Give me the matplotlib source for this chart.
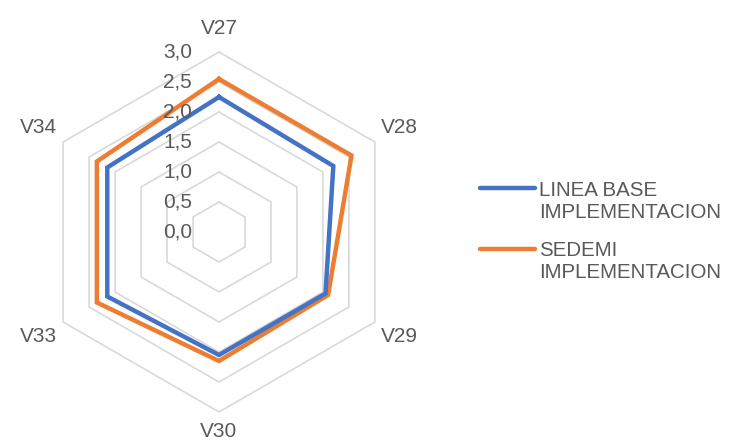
import numpy as np
import matplotlib.pyplot as plt
from matplotlib.lines import Line2D
from matplotlib.transforms import ScaledTranslation

plt.rcParams['font.family'] = ['Liberation Sans', 'DejaVu Sans']

# radar data
categories = ['V27', 'V28', 'V29', 'V30', 'V33', 'V34']
linea_base = [2.25, 2.2, 2.05, 2.05, 2.15, 2.15]
sedemi = [2.55, 2.55, 2.1, 2.15, 2.35, 2.35]
levels = [0.5, 1.0, 1.5, 2.0, 2.5, 3.0]
tick_levels = [0.0, 0.5, 1.0, 1.5, 2.0, 2.5, 3.0]

blue = '#4472C4'
orange = '#ED7D31'
grid_c = '#D9D9D9'
text_c = '#595959'

fig = plt.figure(figsize=(7.34, 4.41), dpi=100)
ax = fig.add_axes([39 / 734, 29 / 441, 360 / 734, 360 / 441], projection='polar')
ax.set_theta_zero_location('N')
ax.set_theta_direction(-1)
ax.set_ylim(0, 3.0)
ax.grid(False)
ax.set_xticks([])
ax.set_yticks([])
ax.spines['polar'].set_visible(False)
ax.patch.set_alpha(0)

n = len(categories)
theta = np.linspace(0, 2 * np.pi, n, endpoint=False)
theta_c = np.append(theta, theta[0])

# hexagon rings
for lv in levels:
    ax.plot(theta_c, [lv] * (n + 1), color=grid_c, lw=1.2, zorder=1, clip_on=False)

ax.plot(theta_c, linea_base + linea_base[:1], color=blue, lw=3.2, zorder=3,
        solid_joinstyle='miter', clip_on=False)
ax.plot(theta_c, sedemi + sedemi[:1], color=orange, lw=3.2, zorder=2,
        solid_joinstyle='miter', clip_on=False)

# value labels left of the vertical axis
off = ax.transData + ScaledTranslation(-0.27, 0, fig.dpi_scale_trans)
for lv in tick_levels:
    ax.text(0, lv, f'{lv:.1f}'.replace('.', ','), transform=off, ha='right',
            va='center', fontsize=15, color=text_c)

# category labels
label_r = [3.4, 3.47, 3.47, 3.32, 3.47, 3.47]
for t, name, r in zip(theta, categories, label_r):
    ax.text(t, r, name, ha='center', va='center', fontsize=15, color=text_c)

# legend
entries = [(blue, 'LINEA BASE\nIMPLEMENTACION', 188, 201),
           (orange, 'SEDEMI\nIMPLEMENTACION', 249, 261)]
for col, lab, y_line, y_text in entries:
    fig.add_artist(Line2D([480 / 734, 535 / 734], [1 - y_line / 441] * 2,
                          transform=fig.transFigure, color=col, lw=3.2,
                          solid_capstyle='round'))
    fig.text(539 / 734, 1 - y_text / 441, lab, ha='left', va='center',
             fontsize=14.8, color=text_c, linespacing=1.2)

fig.savefig('out.png', dpi=100)
